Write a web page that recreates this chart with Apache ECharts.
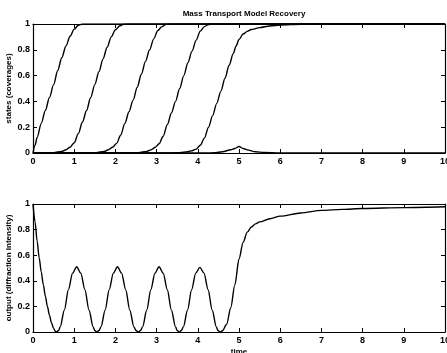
<!DOCTYPE html>
<html>
<head>
<meta charset="UTF-8">
<title>Mass Transport Model Recovery</title>
<script type="text/javascript" src="https://cdn.jsdelivr.net/npm/echarts@6/dist/echarts.min.js"></script>
<style>
html,body{margin:0;padding:0;background:#fff;}
</style>
</head>
<body>
<div id="main" style="width:447px;height:353px"></div>

<script type="text/javascript">
// time ticks and value ticks
var timeTicks = [0,1,2,3,4,5,6,7,8,9,10];
var valueTicks = [0,0.2,0.4,0.6,0.8,1];

// top panel: layer coverages [time, coverage]
var state1 = [[0,0],[0.05,0.06],[0.1,0.12],[0.2,0.23],[0.3,0.33],[0.4,0.43],[0.5,0.53],[0.6,0.64],[0.7,0.74],[0.8,0.83],[0.9,0.905],[1.0,0.96],[1.1,0.99],[1.2,1],[10,1]];
var state2 = [[0,0],[0.3,0],[0.5,0.003],[0.7,0.012],[0.8,0.025],[0.9,0.045],[1.0,0.08],[1.1,0.15],[1.2,0.24],[1.3,0.33],[1.4,0.43],[1.5,0.53],[1.6,0.63],[1.7,0.73],[1.8,0.82],[1.9,0.9],[2.0,0.955],[2.1,0.985],[2.2,0.998],[2.3,1],[10,1]];
var state3 = [[0,0],[1.33,0],[1.53,0.003],[1.73,0.012],[1.83,0.025],[1.93,0.045],[2.03,0.075],[2.13,0.14],[2.23,0.23],[2.33,0.32],[2.43,0.41],[2.53,0.51],[2.63,0.61],[2.73,0.71],[2.83,0.8],[2.93,0.885],[3.03,0.95],[3.13,0.98],[3.23,0.997],[3.33,1],[10,1]];
var state4 = [[0,0],[2.36,0],[2.56,0.003],[2.76,0.012],[2.86,0.024],[2.96,0.043],[3.06,0.072],[3.16,0.13],[3.26,0.22],[3.36,0.31],[3.46,0.4],[3.56,0.5],[3.66,0.6],[3.76,0.7],[3.86,0.79],[3.96,0.875],[4.06,0.945],[4.16,0.98],[4.26,0.996],[4.36,1],[10,1]];
var state5 = [[0,0],[3.36,0],[3.56,0.003],[3.76,0.01],[3.86,0.018],[3.96,0.03],[4.06,0.06],[4.16,0.115],[4.26,0.2],[4.36,0.29],[4.46,0.385],[4.56,0.48],[4.66,0.58],[4.76,0.68],[4.86,0.77],[4.93,0.83],[5.0,0.88],[5.1,0.922],[5.2,0.943],[5.3,0.957],[5.5,0.972],[5.75,0.985],[6.0,0.992],[6.5,0.998],[7,1],[10,1]];
var state6 = [[0,0],[4.2,0],[4.4,0.002],[4.6,0.01],[4.8,0.025],[4.9,0.035],[5.0,0.05],[5.1,0.035],[5.2,0.024],[5.4,0.01],[5.6,0.004],[6.0,0],[10,0]];

// bottom panel: diffraction intensity [time, intensity]
var output = [[0,1],[0.05,0.86],[0.1,0.71],[0.15,0.58],[0.2,0.47],[0.25,0.37],[0.3,0.28],[0.35,0.2],[0.4,0.13],[0.45,0.07],[0.5,0.028],[0.54,0.006],[0.57,0],
  [0.62,0.012],[0.66,0.04],[0.76,0.17],[0.86,0.33],[0.96,0.46],[1.06,0.51],[1.16,0.46],[1.26,0.33],[1.36,0.17],[1.46,0.04],[1.5,0.012],[1.55,0],
  [1.6,0.012],[1.65,0.04],[1.75,0.17],[1.85,0.33],[1.95,0.46],[2.05,0.51],[2.15,0.46],[2.25,0.33],[2.35,0.17],[2.45,0.04],[2.5,0.012],[2.56,0],
  [2.61,0.012],[2.66,0.04],[2.76,0.17],[2.86,0.33],[2.96,0.46],[3.06,0.51],[3.16,0.46],[3.26,0.33],[3.36,0.17],[3.46,0.04],[3.5,0.012],[3.55,0],
  [3.6,0.012],[3.65,0.04],[3.75,0.17],[3.85,0.33],[3.95,0.46],[4.05,0.505],[4.15,0.46],[4.25,0.33],[4.35,0.17],[4.45,0.04],[4.49,0.012],[4.54,0],
  [4.6,0.01],[4.7,0.06],[4.8,0.19],[4.9,0.37],[5.0,0.57],[5.1,0.7],[5.2,0.78],[5.3,0.82],[5.4,0.845],[5.5,0.86],[5.75,0.885],[6.0,0.905],[6.5,0.93],[7,0.95],[7.5,0.958],[8,0.965],[9,0.972],[10,0.978]];

var mychart = echarts.init(document.getElementById("main"));

var font = 'Liberation Sans, Arial, sans-serif';
var lbl = {color:'#000', fontSize:9, fontWeight:'bold', fontFamily:font};

function xAx(grid, pos, showLabel, name){
  return {
    type:'value', gridIndex:grid, position:pos, min:timeTicks[0], max:timeTicks[timeTicks.length-1], interval:1,
    axisLine:{onZero:false, lineStyle:{color:'#000', width:1.2}},
    axisTick:{inside:true, length:4, lineStyle:{color:'#000'}},
    axisLabel:{show:showLabel, margin:4, formatter:function(v){return timeTicks.indexOf(v)>=0 ? String(v) : '';}, textStyle:lbl},
    splitLine:{show:false},
    name:name||'', nameLocation:'middle', nameGap:16, nameMoveOverlap:false,
    nameTextStyle:{color:'#000', fontSize:8, fontWeight:'bold', fontFamily:font}
  };
}
function yAx(grid, pos, showLabel, name){
  return {
    type:'value', gridIndex:grid, position:pos, min:valueTicks[0], max:valueTicks[valueTicks.length-1], interval:0.2,
    axisLine:{onZero:false, lineStyle:{color:'#000', width:1.2}},
    axisTick:{inside:true, length:4, lineStyle:{color:'#000'}},
    axisLabel:{show:showLabel, margin:3, formatter:function(v){return String(+v.toFixed(1));}, textStyle:lbl},
    splitLine:{show:false},
    name:name||'', nameLocation:'middle', nameGap:20, nameRotate:90, nameMoveOverlap:false,
    nameTextStyle:{color:'#000', fontSize:8, fontWeight:'bold', fontFamily:font}
  };
}
function line(name, data, xi, yi){
  return {name:name, type:'line', data:data, xAxisIndex:xi, yAxisIndex:yi, showSymbol:false,
    smooth:0.3, smoothMonotone:'x', lineStyle:{color:'#000', width:1.4}, itemStyle:{color:'#000'}};
}

var option = {
  animation:false,
  backgroundColor:'#fff',
  title:{text:'Mass Transport Model Recovery', left:239, top:5, textAlign:'center',
    textStyle:{color:'#000', fontSize:8, fontWeight:'bold', fontFamily:font}},
  grid:[
    {left:33, top:24, width:412, height:129, outerBoundsMode:'none', containLabel:false},
    {left:33, top:204, width:412, height:128, outerBoundsMode:'none', containLabel:false}
  ],
  xAxis:[
    xAx(0,'bottom',true),
    xAx(0,'top',false),
    xAx(1,'bottom',true,'time'),
    xAx(1,'top',false)
  ],
  yAxis:[
    yAx(0,'left',true,'states (coverages)'),
    yAx(0,'right',false),
    yAx(1,'left',true,'output (diffraction intensity)'),
    yAx(1,'right',false)
  ],
  series:[
    line('state1', state1, 0, 0),
    line('state2', state2, 0, 0),
    line('state3', state3, 0, 0),
    line('state4', state4, 0, 0),
    line('state5', state5, 0, 0),
    line('state6', state6, 0, 0),
    line('output', output, 2, 2)
  ]
};
mychart.setOption(option);
</script>
</body>
</html>
